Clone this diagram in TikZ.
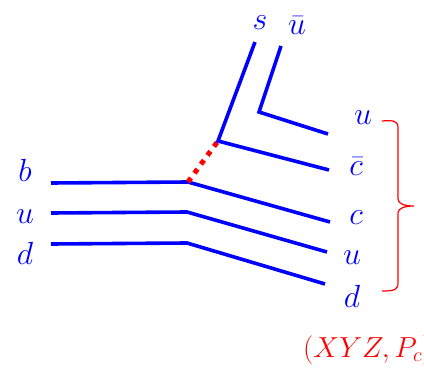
\RequirePackage{fix-cm}
\documentclass[tikz,border=0pt]{standalone}
\usepackage{xcolor}
\colorlet{myblue}{blue}
\colorlet{myred}{red}
\usepackage{tikz}

\begin{document}
\begin{tikzpicture}[x=1pt,y=-1pt,
    quark/.style={myblue, line width=3.6pt},
    qlabel/.style={myblue, anchor=base, inner sep=0pt, font=\fontsize{32}{32}\selectfont}]
      \useasboundingbox (0,0) rectangle (424,369);
      % b u d coming in from the left
      \coordinate (bL) at (51,183);
      \coordinate (bV) at (188,182);
      \coordinate (cR) at (330,222);
      \coordinate (uL) at (51,213);
      \coordinate (uK) at (187,212);
      \coordinate (uR) at (327,252);
      \coordinate (dL) at (51,244);
      \coordinate (dK) at (187,243);
      \coordinate (dR) at (325,284);
      \draw[quark] (bL) -- (bV) -- (cR);
      \draw[quark] (uL) -- (uK) -- (uR);
      \draw[quark] (dL) -- (dK) -- (dR);

      % the W going up to the s and cbar
      \coordinate (sV) at (218,141);
      \coordinate (sT) at (255,42);
      \coordinate (cbR) at (329,170);
      \draw[myred, line width=5pt, dash pattern=on 5pt off 6pt] (bV) -- (sV);
      \draw[quark] (sT) -- (sV) -- (cbR);

      % u ubar pair
      \coordinate (ubT) at (281,46);
      \coordinate (ubK) at (259,112);
      \coordinate (ubR) at (328,134);
      \draw[quark] (ubT) -- (ubK) -- (ubR);

      \node[qlabel] (lb) at (25,182) {\(b\)};
      \node[qlabel] (lu) at (25,224) {\(u\)};
      \node[qlabel] (ld) at (25,265) {\(d\)};
      \node[qlabel] (ls) at (260,30) {\(s\)};
      \node[qlabel] (lub) at (297,35) {\(\bar{u}\)};
      \node[qlabel] (ru) at (363,125) {\(u\)};
      \node[qlabel] (rcb) at (356,176) {\(\bar{c}\)};
      \node[qlabel] (rc) at (356,225) {\(c\)};
      \node[qlabel] (ru2) at (352,265) {\(u\)};
      \node[qlabel] (rd) at (352,307) {\(d\)};

      % brace round the outgoing five
      \draw[myred, line width=1.2pt] (382,121) .. controls (394,120) and (398,121) .. (398,128)
        -- (398,199) .. controls (398,204) and (405,206) .. (414,206)
        .. controls (405,206) and (398,208) .. (398,213)
        -- (398,283) .. controls (398,290) and (394,291) .. (382,291);
      \node[myred, anchor=base west, inner sep=0pt, font=\fontsize{29}{29}\selectfont] (xyz) at (303,357) {\((XYZ,P_c)\)};
\end{tikzpicture}
\end{document}
